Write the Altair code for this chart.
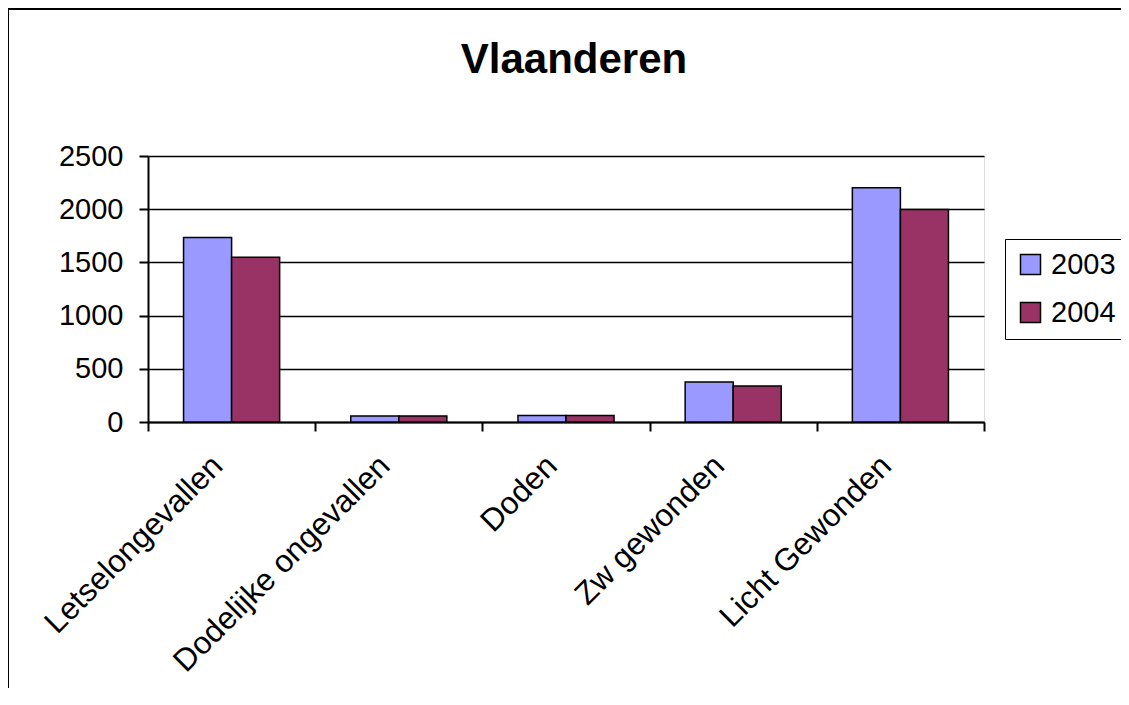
import altair as alt
import pandas as pd

categories = ["Letselongevallen", "Dodelijke ongevallen", "Doden", "Zw gewonden", "Licht Gewonden"]
values_2003 = [1735, 57, 60, 376, 2202]
values_2004 = [1548, 57, 60, 339, 1998]
years = ["2003", "2004"]
colors = ["#9999FF", "#993366"]
y_ticks = [0, 500, 1000, 1500, 2000, 2500]
title_text = "Vlaanderen"

rows = []
for c, a, b in zip(categories, values_2003, values_2004):
    rows.append({"cat": c, "year": years[0], "value": a})
    rows.append({"cat": c, "year": years[1], "value": b})
df = pd.DataFrame(rows)

W, H = 836, 266
FONT = "Liberation Sans"

bars = alt.Chart(df).mark_bar(stroke="black", strokeWidth=1.5, opacity=1).encode(
    x=alt.X("cat:N", sort=categories, title=None,
            scale=alt.Scale(paddingInner=0, paddingOuter=0),
            axis=alt.Axis(labelAngle=-45, labelAlign="right", labelBaseline="middle",
                          labelFontSize=31.5, labelPadding=30, labelOffset=-14, labelLimit=0,
                          tickBand="extent",
                          tickSize=9, tickColor="black", tickWidth=2,
                          domainColor="black", domainWidth=2, labelColor="black",
                          grid=False, labelFont=FONT)),
    xOffset=alt.XOffset("year:N", sort=years, scale=alt.Scale(paddingOuter=0.74, paddingInner=0)),
    y=alt.Y("value:Q", title=None, scale=alt.Scale(domain=[0, 2500], nice=False),
            axis=alt.Axis(values=y_ticks, format="d", labelFontSize=29, labelPadding=16,
                          labelColor="black",
                          tickSize=9, tickColor="black", tickWidth=2,
                          domainColor="black", domainWidth=2,
                          grid=True, gridColor="black", gridWidth=1.5, labelFont=FONT)),
    color=alt.Color("year:N", sort=years, scale=alt.Scale(domain=years, range=colors),
                    legend=alt.Legend(title=None, orient="none", legendX=857, legendY=83,
                                      strokeColor="black", fillColor="white", padding=11,
                                      symbolType="square", symbolSize=400,
                                      symbolStrokeColor="black", symbolStrokeWidth=1.5,
                                      symbolOpacity=1, labelFontSize=29, labelFont=FONT,
                                      labelColor="black", rowPadding=18, labelOffset=6)),
)

one = alt.Data(values=[{"a": 1}])
title_mark = alt.Chart(one).mark_text(
    font=FONT, fontSize=42, fontWeight="bold", color="black", align="center", baseline="alphabetic"
).encode(x=alt.value(426), y=alt.value(-83), text=alt.value(title_text))

frame_left = alt.Chart(one).mark_rule(color="black", strokeWidth=2).encode(
    x=alt.value(-140), y=alt.value(-147), y2=alt.value(600))
frame_top = alt.Chart(one).mark_rule(color="black", strokeWidth=2).encode(
    x=alt.value(-140), x2=alt.value(1000), y=alt.value(-147))

chart = alt.layer(bars, title_mark, frame_left, frame_top).properties(
    width=W, height=H,
    padding={"left": 140, "top": 148, "right": 137, "bottom": 266},
    autosize=alt.AutoSizeParams(type="none"),
).configure_view(fill="#C0C0C0", stroke="#808080", strokeWidth=1.5).configure(
    background="white", font=FONT)

chart.save("out.html", embed_options={"renderer": "svg", "actions": False})
